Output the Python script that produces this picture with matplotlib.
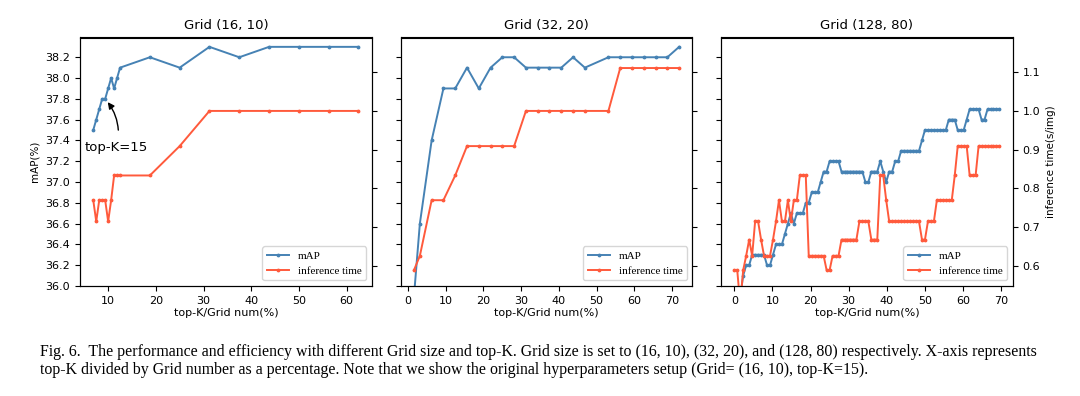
import matplotlib
matplotlib.use("Agg")
import matplotlib.pyplot as plt
from matplotlib.ticker import MultipleLocator, FormatStrFormatter

# ---------------- data ----------------
titles = ["Grid (16, 10)", "Grid (32, 20)", "Grid (128, 80)"]

x1 = [6.875, 7.5, 8.125, 8.75, 9.375, 10.0, 10.625, 11.25, 11.875, 12.5,
      18.75, 25.0, 31.25, 37.5, 43.75, 50.0, 56.25, 62.5]
map1 = [37.5, 37.6, 37.7, 37.8, 37.8, 37.9, 38.0, 37.9, 38.0, 38.1,
        38.2, 38.1, 38.3, 38.2, 38.3, 38.3, 38.3, 38.3]
time1 = [0.769, 0.714, 0.769, 0.769, 0.769, 0.714, 0.769, 0.833, 0.833, 0.833,
         0.833, 0.909, 1.0, 1.0, 1.0, 1.0, 1.0, 1.0]

x2 = [1.5625, 3.125, 6.25, 9.375, 12.5, 15.625, 18.75, 21.875, 25.0, 28.125,
      31.25, 34.375, 37.5, 40.625, 43.75, 46.875, 53.125, 56.25, 59.375, 62.5,
      65.625, 68.75, 71.875]
map2 = [35.9, 36.6, 37.4, 37.9, 37.9, 38.1, 37.9, 38.1, 38.2, 38.2,
        38.1, 38.1, 38.1, 38.1, 38.2, 38.1, 38.2, 38.2, 38.2, 38.2,
        38.2, 38.2, 38.3]
time2 = [0.588, 0.625, 0.769, 0.769, 0.833, 0.909, 0.909, 0.909, 0.909, 0.909,
         1.0, 1.0, 1.0, 1.0, 1.0, 1.0, 1.0, 1.111, 1.111, 1.111,
         1.111, 1.111, 1.111]

x3 = [0.00, 0.78, 1.56, 2.34, 3.12, 3.91, 4.69, 5.47, 6.25, 7.03,
      7.81, 8.59, 9.38, 10.16, 10.94, 11.72, 12.50, 13.28, 14.06, 14.84,
      15.62, 16.41, 17.19, 17.97, 18.75, 19.53, 20.31, 21.09, 21.88, 22.66,
      23.44, 24.22, 25.00, 25.78, 26.56, 27.34, 28.12, 28.91, 29.69, 30.47,
      31.25, 32.03, 32.81, 33.59, 34.38, 35.16, 35.94, 36.72, 37.50, 38.28,
      39.06, 39.84, 40.62, 41.41, 42.19, 42.97, 43.75, 44.53, 45.31, 46.09,
      46.88, 47.66, 48.44, 49.22, 50.00, 50.78, 51.56, 52.34, 53.12, 53.91,
      54.69, 55.47, 56.25, 57.03, 57.81, 58.59, 59.38, 60.16, 60.94, 61.72,
      62.50, 63.28, 64.06, 64.84, 65.62, 66.41, 67.19, 67.97, 68.75, 69.53]
map3 = [35.7, 35.8, 35.9, 36.1, 36.2, 36.2, 36.3, 36.3, 36.3, 36.3,
        36.3, 36.2, 36.2, 36.3, 36.4, 36.4, 36.4, 36.5, 36.6, 36.7,
        36.6, 36.7, 36.7, 36.7, 36.8, 36.8, 36.9, 36.9, 36.9, 37.0,
        37.1, 37.1, 37.2, 37.2, 37.2, 37.2, 37.1, 37.1, 37.1, 37.1,
        37.1, 37.1, 37.1, 37.1, 37.0, 37.0, 37.1, 37.1, 37.1, 37.2,
        37.1, 37.0, 37.1, 37.1, 37.2, 37.2, 37.3, 37.3, 37.3, 37.3,
        37.3, 37.3, 37.3, 37.4, 37.5, 37.5, 37.5, 37.5, 37.5, 37.5,
        37.5, 37.5, 37.6, 37.6, 37.6, 37.5, 37.5, 37.5, 37.6, 37.7,
        37.7, 37.7, 37.7, 37.6, 37.6, 37.7, 37.7, 37.7, 37.7, 37.7]
time3 = [0.588, 0.588, 0.5, 0.588, 0.625, 0.667, 0.625, 0.714, 0.714, 0.667,
         0.625, 0.625, 0.625, 0.667, 0.714, 0.769, 0.714, 0.714, 0.769, 0.714,
         0.769, 0.769, 0.833, 0.833, 0.833, 0.625, 0.625, 0.625, 0.625, 0.625,
         0.625, 0.588, 0.588, 0.625, 0.625, 0.625, 0.667, 0.667, 0.667, 0.667,
         0.667, 0.667, 0.714, 0.714, 0.714, 0.714, 0.667, 0.667, 0.667, 0.833,
         0.833, 0.769, 0.714, 0.714, 0.714, 0.714, 0.714, 0.714, 0.714, 0.714,
         0.714, 0.714, 0.714, 0.667, 0.667, 0.714, 0.714, 0.714, 0.769, 0.769,
         0.769, 0.769, 0.769, 0.769, 0.833, 0.909, 0.909, 0.909, 0.909, 0.833,
         0.833, 0.833, 0.909, 0.909, 0.909, 0.909, 0.909, 0.909, 0.909, 0.909]

series_names = ["mAP", "inference time"]
xlabel = "top-K/Grid num(%)"
ylabel_left = "mAP(%)"
ylabel_right = "inference time(s/img)"
annot_text = "top-K=15"
annot_point = (9.375, 37.8)
caption1 = ("Fig. 6.  The performance and efficiency with different Grid size and top-K. "
            "Grid size is set to (16, 10), (32, 20), and (128, 80) respectively. X-axis represents")
caption2 = ("top-K divided by Grid number as a percentage. Note that we show the original "
            "hyperparameters setup (Grid= (16, 10), top-K=15).")

# ---------------- style ----------------
BLUE = "#4682b4"
RED = "#ff5a3c"
SERIF = ["Liberation Serif", "DejaVu Serif"]

fig = plt.figure(figsize=(10.8, 3.96), dpi=100)
W, H = 1080.0, 396.0
lefts = [80, 400.7, 721]
axw = 291.7
ax_top, ax_bot = 37.5, 286.0

data = [(x1, map1, time1), (x2, map2, time2), (x3, map3, time3)]

for i, (xs, ms, ts) in enumerate(data):
    ax = fig.add_axes([lefts[i] / W, 1 - ax_bot / H, axw / W, (ax_bot - ax_top) / H])
    ax2 = ax.twinx()
    l1, = ax.plot(xs, ms, color=BLUE, marker=".", markersize=3.5, lw=1.4,
                  label=series_names[0])
    l2, = ax2.plot(xs, ts, color=RED, marker=".", markersize=3.5, lw=1.4,
                   label=series_names[1])
    ax.set_ylim(36.0, 38.39)
    ax2.set_ylim(0.547, 1.19)
    ax.yaxis.set_major_locator(MultipleLocator(0.2))
    ax.yaxis.set_major_formatter(FormatStrFormatter("%.1f"))
    ax2.yaxis.set_major_locator(MultipleLocator(0.1))
    ax2.yaxis.set_major_formatter(FormatStrFormatter("%.1f"))
    ax.xaxis.set_major_locator(MultipleLocator(10))
    for a in (ax, ax2):
        a.tick_params(labelsize=8)
    if i > 0:
        ax.tick_params(labelleft=False)
    else:
        ax.set_ylabel(ylabel_left, fontsize=7.5)
    if i < 2:
        ax2.tick_params(labelright=False)
    else:
        ax2.set_ylabel(ylabel_right, fontsize=7.5)
    ax.set_title(titles[i], fontsize=9.5)
    ax.set_xlabel(xlabel, fontsize=8, labelpad=2)
    ax2.legend([l1, l2], series_names, loc="lower right",
               prop={"family": SERIF, "size": 8})
    if i == 0:
        ax.annotate(annot_text, xy=annot_point, xytext=(11.8, 37.33),
                    ha="center", va="center", fontsize=9.5, zorder=5,
                    arrowprops=dict(arrowstyle="-|>", color="black", lw=1.0,
                                    connectionstyle="arc3,rad=0.25",
                                    shrinkA=6, shrinkB=3))

# caption: fit first line to the reference width, same size for the second
t1 = fig.text(40 / W, 1 - 352 / H, caption1, family=SERIF, fontsize=9.5,
              ha="left", va="center")
t2 = fig.text(40 / W, 1 - 370 / H, caption2, family=SERIF, fontsize=9.5,
              ha="left", va="center")
fig.canvas.draw()
r = fig.canvas.get_renderer()
fs = 9.5 * 1000.0 / t1.get_window_extent(r).width
t1.set_fontsize(fs)
t2.set_fontsize(fs)

fig.savefig("out.png", dpi=100)
